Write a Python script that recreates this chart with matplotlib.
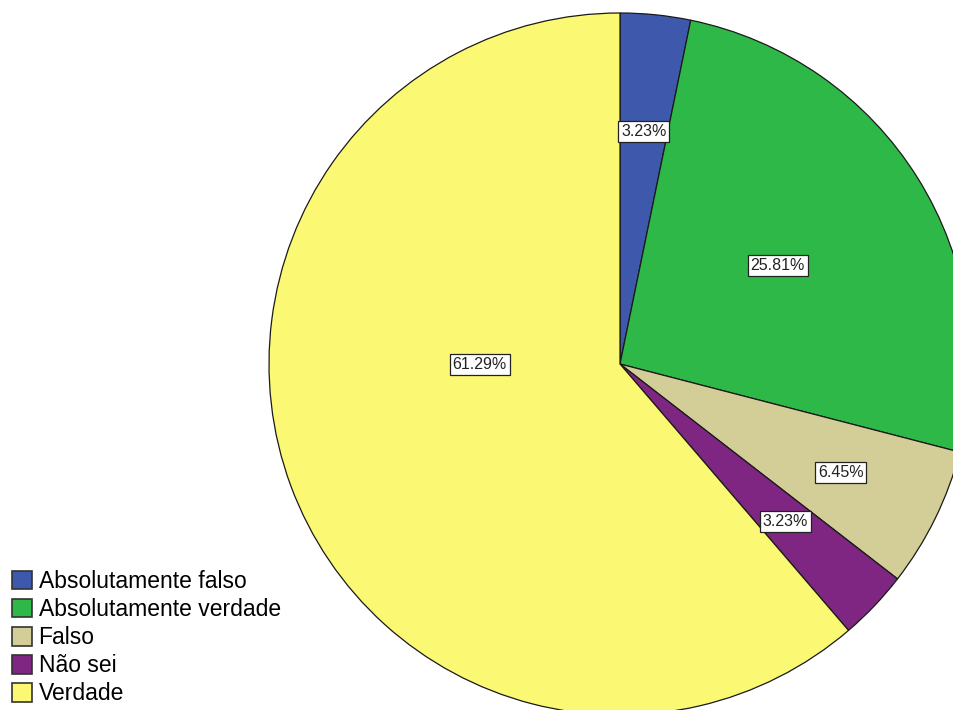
import numpy as np
import matplotlib.pyplot as plt
from matplotlib.patches import Patch

# ── data ───────────────────────────────────────────────────────────────────────
categories = ["Absolutamente falso", "Absolutamente verdade", "Falso",
              "Não sei", "Verdade"]
percent = [3.23, 25.81, 6.45, 3.23, 61.29]
colors = ["#3e58ac", "#2eb848", "#d3ce97", "#7e2682", "#fbf873"]

# label placement: fraction of radius, and angle shift (deg) from wedge middle
label_r = [0.665, 0.53, 0.70, 0.65, 0.40]
label_shift = [0.0, 0.0, 0.0, 0.0, -20.0]

W, H = 954, 710
CX, CY, R = 620, H - 364, 351

plt.rcParams["font.family"] = ["Liberation Sans", "DejaVu Sans"]

fig = plt.figure(figsize=(W / 100, H / 100), dpi=100)
ax = fig.add_axes([0, 0, 1, 1])
ax.set_aspect("equal")
ax.axis("off")

wedges, _ = ax.pie(percent, colors=colors, startangle=90, counterclock=False,
                   radius=R, center=(CX, CY),
                   wedgeprops=dict(edgecolor="#1a1a1a", linewidth=0.9))
ax.set_xlim(0, W)
ax.set_ylim(0, H)

for w, p, rf, sh in zip(wedges, percent, label_r, label_shift):
    mid = np.deg2rad((w.theta1 + w.theta2) / 2 + sh)
    x = CX + rf * R * np.cos(mid)
    y = CY + rf * R * np.sin(mid)
    ax.text(x, y, f"{p:.2f}%", ha="center", va="center", fontsize=11.5,
            color="#222222",
            bbox=dict(boxstyle="square,pad=0.18", fc="white", ec="#222222",
                      lw=0.9))

handles = [Patch(facecolor=c, edgecolor="#333333", linewidth=1.2) for c in colors]
fig.legend(handles, categories, loc="lower left", bbox_to_anchor=(0.008, 0.0),
           frameon=False, fontsize=16.5, handlelength=0.85, handleheight=0.85,
           handletextpad=0.3, labelspacing=0.22, borderpad=0.1,
           borderaxespad=0.1)

fig.savefig("out.png", dpi=100)
